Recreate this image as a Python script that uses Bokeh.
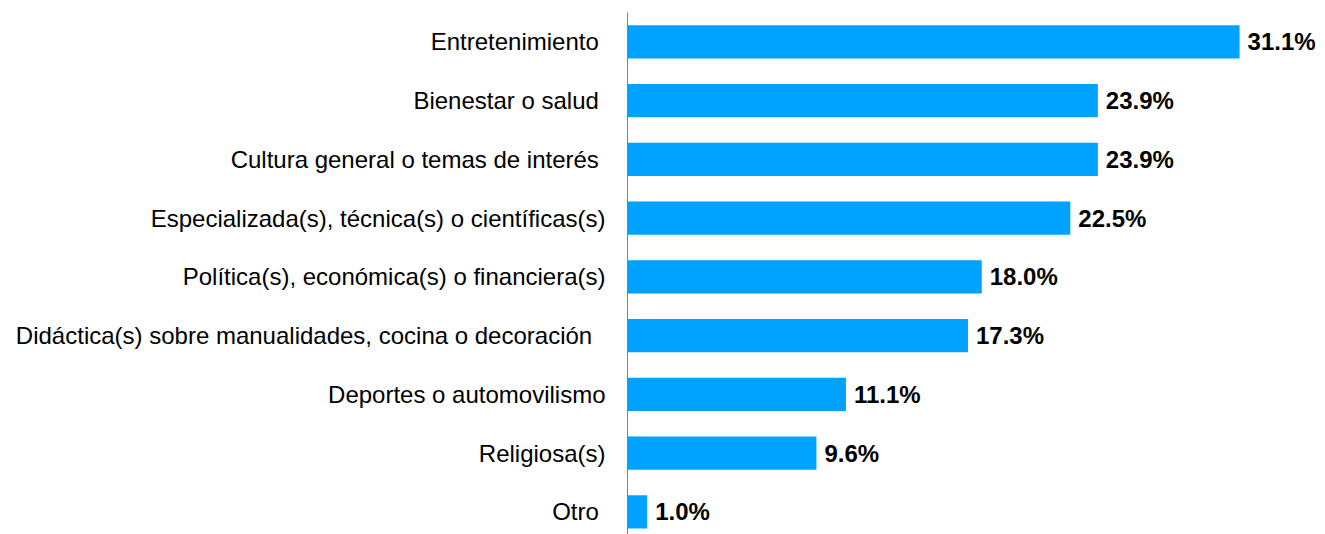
from bokeh.plotting import figure
from bokeh.models import Range1d, FixedTicker, ColumnDataSource
from bokeh.embed import file_html
from bokeh.resources import INLINE
from bokeh.core.properties import value

NB = "\u00a0"
categories = [
    "Entretenimiento" + NB,
    "Bienestar o salud" + NB,
    "Cultura general o temas de interés" + NB,
    "Especializada(s), técnica(s) o científicas(s)",
    "Política(s), económica(s) o financiera(s)",
    "Didáctica(s) sobre manualidades, cocina o decoración" + NB * 2,
    "Deportes o automovilismo",
    "Religiosa(s)",
    "Otro" + NB,
]
values = [31.1, 23.9, 23.9, 22.5, 18.0, 17.3, 11.1, 9.6, 1.0]
labels = [f"{v:.1f}%" for v in values]

pos = list(range(len(categories)))
src = ColumnDataSource(dict(y=pos, v=values, lab=labels))

p = figure(
    frame_width=690, frame_height=522,
    x_range=Range1d(0, 35.06), y_range=Range1d(8.385, -0.5),
    output_backend="svg", toolbar_location=None,
    min_border_left=627, min_border_top=12, min_border_bottom=0, min_border_right=0,
)
p.hbar(y="y", right="v", left=0, height=0.57, source=src, color="#00A2FF", line_color=None)
p.text(x="v", y="y", text="lab", source=src, x_offset=8, text_align="left",
       text_baseline="middle", text_font=value("Liberation Sans"), text_font_style="bold",
       text_font_size="24px", text_color="#000000")

p.xaxis.visible = False
p.grid.visible = False
p.outline_line_color = None
p.yaxis.ticker = FixedTicker(ticks=pos)
p.yaxis.major_label_overrides = {i: c for i, c in enumerate(categories)}
p.yaxis.major_tick_line_color = None
p.yaxis.minor_tick_line_color = None
p.yaxis.major_tick_out = 0
p.yaxis.major_label_standoff = 22
p.yaxis.axis_line_color = "#808080"
p.yaxis.axis_line_width = 1
p.yaxis.major_label_text_font = "Liberation Sans"
p.yaxis.major_label_text_font_size = "24px"
p.yaxis.major_label_text_color = "#000000"

open("out.html", "w").write(file_html(p, INLINE))
